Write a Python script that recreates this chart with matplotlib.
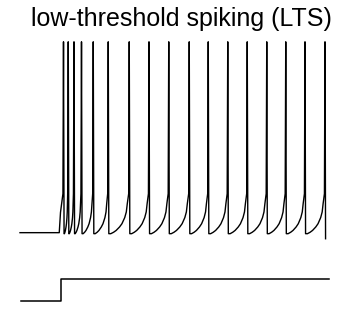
import matplotlib
matplotlib.use("Agg")
import matplotlib.pyplot as plt
import numpy as np

# spike times (ms)
spike_times = [34.8, 38.6, 43.2, 49.2, 58.6, 70.6, 87.4, 103.2, 119.0, 135.4,
               150.6, 166.2, 181.8, 197.4, 212.6, 228.0, 244.0]

v_rest = -64.0
v_reset = -64.5
v_peak = 30.0
v_end = -67.0
t_onset = 31.4      # trace starts to rise
t_end = 244.0

# shape of one interspike interval (fraction of ISI, mV above reset)
isi_frac = [0.0, 0.1, 0.24, 0.37, 0.54, 0.66, 0.8, 0.88, 0.93, 0.97]
isi_rise = [0.0, 0.0, 0.7, 1.6, 3.3, 4.9, 7.9, 10.7, 14.8, 19.7]

# input current step
step_t = [1.0, 32.8, 32.8, 247.0]
step_v = [-97.6, -97.6, -87.0, -87.0]


def build_trace():
    t = [0.0, t_onset, t_onset + 1.0]
    v = [v_rest, v_rest, v_rest + 10.0]
    dt = 0.45
    for i, ts in enumerate(spike_times):
        t += [ts - dt, ts, ts + dt]
        if i == len(spike_times) - 1:
            v += [v_reset + isi_rise[-1], v_peak, v_end]
            break
        v += [v_reset + isi_rise[-1], v_peak, v_reset]
        isi = spike_times[i + 1] - ts - 2 * dt
        for f, r in zip(isi_frac[1:-1], isi_rise[1:-1]):
            t.append(ts + dt + f * isi)
            v.append(v_reset + r)
    return np.array(t), np.array(v)


def main():
    t, v = build_trace()
    fig = plt.figure(figsize=(3.53, 3.22), dpi=100)
    ax = fig.add_axes([0, 0, 1, 1])
    ax.plot(t, v, color="black", linewidth=1.0)
    ax.plot(step_t, step_v, color="black", linewidth=1.1)
    ax.set_xlim(-16, 266.4)
    ax.set_ylim(-108.0, 50.6)
    ax.axis("off")
    fig.text(0.514, 0.94, "low-threshold spiking (LTS)", ha="center", va="center",
             fontsize=18, family="Liberation Sans")
    fig.savefig("out.png", dpi=100)


if __name__ == "__main__":
    main()
